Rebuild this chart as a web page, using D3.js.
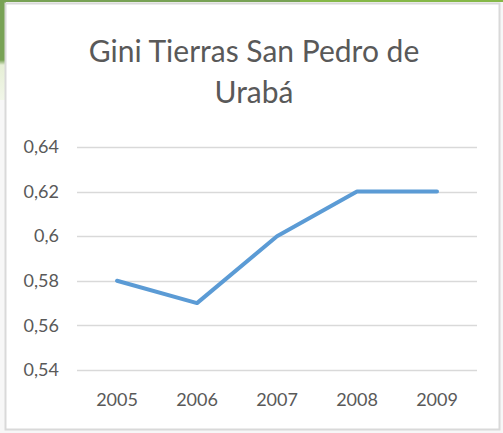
<!DOCTYPE html>
<html><head><meta charset="utf-8">
<script src="https://cdn.jsdelivr.net/npm/d3@7"></script>
<style>body{margin:0;background:#fff;}svg{display:block;}</style>
</head><body>
<script>
const categories = ["2005","2006","2007","2008","2009"];
const values = [0.58, 0.57, 0.60, 0.62, 0.62];
const yTicks = [0.54, 0.56, 0.58, 0.60, 0.62, 0.64];
const titleLines = ["Gini Tierras San Pedro de", "Urabá"];

const W = 503, H = 433;
const svg = d3.select("body").append("svg").attr("width", W).attr("height", H);

// slide background fragments
svg.append("rect").attr("x",0).attr("y",0).attr("width",W).attr("height",H).attr("fill","#f7f7f7");
const g1 = svg.append("defs").append("linearGradient").attr("id","lg").attr("x1",0).attr("y1",0).attr("x2",0).attr("y2",1);
g1.append("stop").attr("offset","0").attr("stop-color","#78a255");
g1.append("stop").attr("offset","0.6").attr("stop-color","#78a255");
g1.append("stop").attr("offset","0.65").attr("stop-color","#e6efd6");
g1.append("stop").attr("offset","1").attr("stop-color","#f1f6e8");
svg.append("rect").attr("x",0).attr("y",0).attr("width",6).attr("height",100).attr("fill","url(#lg)");
svg.append("rect").attr("x",0).attr("y",0).attr("width",W).attr("height",2).attr("fill","#86b848");
svg.append("rect").attr("x",0).attr("y",0).attr("width",300).attr("height",2).attr("fill","#78a255");

// chart box
svg.append("rect").attr("x",5.5).attr("y",3.5).attr("width",494).attr("height",426)
  .attr("fill","#ffffff").attr("stroke","#d9d9d9").attr("stroke-width",2);

const x = d3.scaleBand().domain(categories).range([77, 477]);
const y = d3.scaleLinear().domain([0.54, 0.64]).range([370, 147]);

// gridlines
svg.append("g").selectAll("line").data(yTicks).join("line")
  .attr("x1",77).attr("x2",477)
  .attr("y1",d=>Math.round(y(d))+0.5).attr("y2",d=>Math.round(y(d))+0.5)
  .attr("stroke","#d9d9d9").attr("stroke-width",1.3);

const font = "Lato, 'Open Sans', sans-serif";
const fmt = d => String(+d.toFixed(2)).replace(".", ",");

// y labels
const yAxis = d3.axisLeft(y).tickValues(yTicks).tickFormat(fmt).tickSize(0).tickPadding(0);
const ya = svg.append("g").attr("transform","translate(59,0)").call(yAxis);
ya.select(".domain").remove();
ya.selectAll("text").attr("fill","#595959").style("font-family",font).style("font-size","18px");

// x labels
const xAxis = d3.axisBottom(x).tickSize(0).tickPadding(0);
const xa = svg.append("g").attr("transform","translate(0,393)").call(xAxis);
xa.select(".domain").remove();
xa.selectAll("text").attr("fill","#595959").style("font-family",font).style("font-size","18px");

// line
const line = d3.line().x((d,i)=>x(categories[i]) + x.bandwidth()/2).y(d=>y(d));
svg.append("path").datum(values).attr("d",line).attr("fill","none")
  .attr("stroke","#5b9bd5").attr("stroke-width",4).attr("stroke-linejoin","round").attr("stroke-linecap","round");

// title
svg.append("g").selectAll("text").data(titleLines).join("text")
  .attr("x",254).attr("y",(d,i)=>62 + i*41).attr("text-anchor","middle")
  .attr("fill","#595959").style("font-family",font).style("font-size","30px")
  .text(d=>d);
</script>
</body></html>
